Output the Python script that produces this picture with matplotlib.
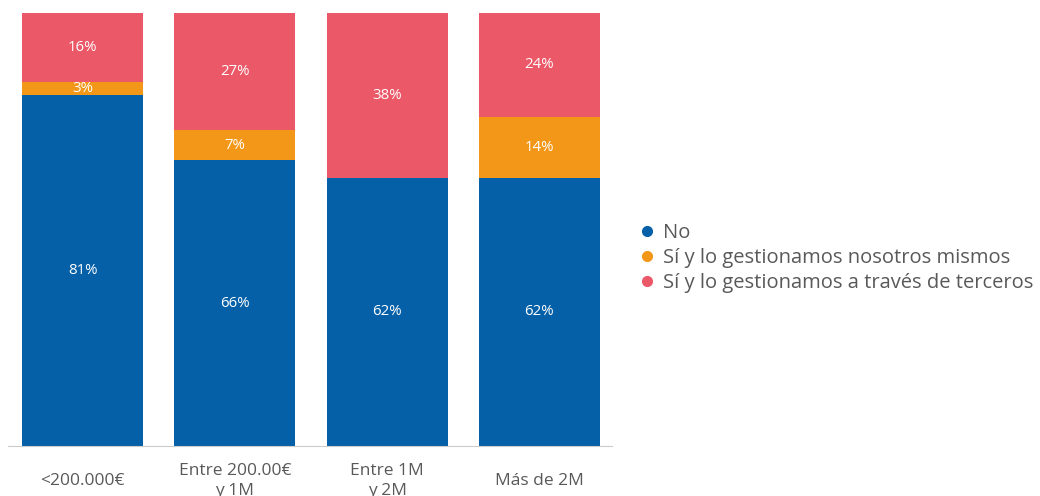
import matplotlib.pyplot as plt
from matplotlib.lines import Line2D

plt.rcParams['font.family'] = ['Open Sans', 'DejaVu Sans']

categories = ['<200.000€', 'Entre 200.00€\ny 1M', 'Entre 1M\ny 2M', 'Más de 2M']
no_vals = [81, 66, 62, 62]
propios = [3, 7, 0, 14]
terceros = [16, 27, 38, 24]
series_names = ['No', 'Sí y lo gestionamos nosotros mismos',
                'Sí y lo gestionamos a través de terceros']

colors = ['#0660A7', '#F39719', '#EB5868']
text_grey = '#595959'

fig = plt.figure(figsize=(10.4, 4.96), dpi=100)
ax = fig.add_axes([8 / 1040, 1 - 446 / 496, 604 / 1040, 433 / 496])

x = list(range(len(categories)))
bottom = [0] * len(categories)
for vals, col in zip([no_vals, propios, terceros], colors):
    ax.bar(x, vals, width=0.796, bottom=bottom, color=col)
    for xi, b, v in zip(x, bottom, vals):
        if v > 0:
            ax.text(xi, b + v / 2, f'{v}%', ha='center', va='center',
                    color='white', fontsize=10.8)
    bottom = [b + v for b, v in zip(bottom, vals)]

ax.set_xlim(-0.49, 3.477)
ax.set_ylim(0, 100)
ax.set_yticks([])
ax.set_xticks(x)
ax.set_xticklabels(categories, fontsize=12.5, color=text_grey, linespacing=1.35)
for lab in ax.get_xticklabels():
    lab.set_va('center')
ax.tick_params(axis='x', length=0, pad=25)
for s in ['top', 'left', 'right']:
    ax.spines[s].set_visible(False)
ax.spines['bottom'].set_color('#cccccc')

handles = [Line2D([], [], marker='o', linestyle='', color=c, markersize=7)
           for c in colors]
fig.legend(handles, series_names, loc='center left',
           bbox_to_anchor=(615 / 1040, 1 - 258 / 496), frameon=False,
           fontsize=14.5, labelcolor=text_grey, handletextpad=0.1,
           labelspacing=0.26, handlelength=1.4)

fig.savefig('out.png', dpi=100)
